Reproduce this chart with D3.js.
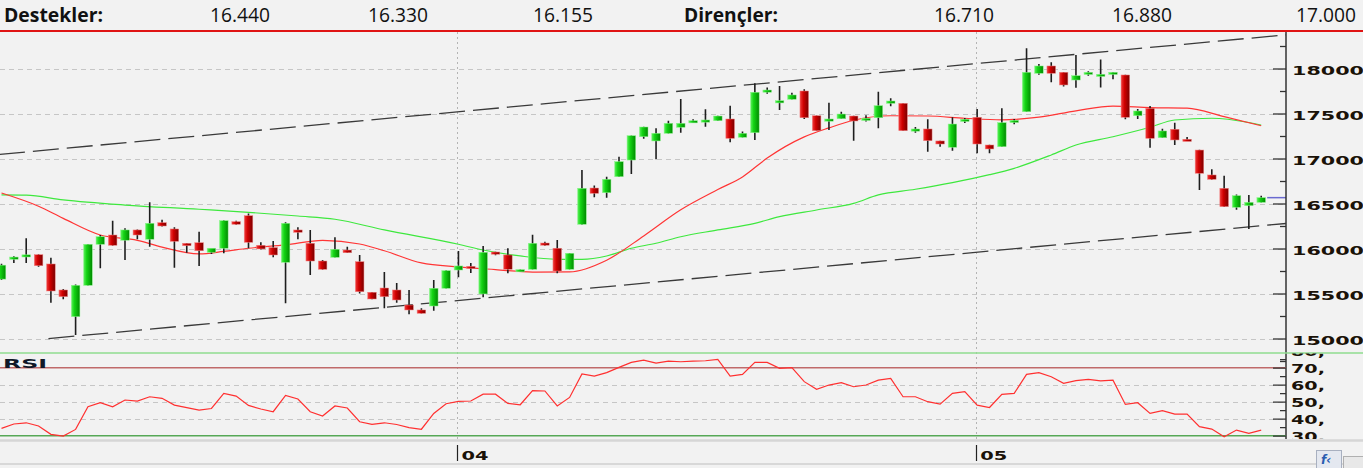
<!DOCTYPE html>
<html>
<head>
<meta charset="utf-8">
<script src="https://cdn.jsdelivr.net/npm/d3@7/dist/d3.min.js"></script>
<style>
  body { margin: 0; background: #f2f2f2; }
  svg { display: block; }
</style>
</head>
<body>
<svg width="1363" height="468"></svg>
<script>

// candles (index 0 = leftmost)
const opens = [15660,15880,15920,15931,15828,15539,15243,15591,16047,16150,16092,16206,16103,16287,16217,16058,16064,15958,16003,16298,
  16364,16036,16010,15847,16206,16058,15861,15902,15983,15853,15514,15561,15539,15372,15317,15361,15558,15761,15802,15495,
  15961,15928,15747,15769,16061,16003,15769,16269,16672,16620,16798,16983,17242,17195,17280,17347,17402,17413,17420,17439,
  17236,17287,17747,17628,17658,17750,17475,17424,17442,17472,17428,17453,17613,17613,17306,17328,17195,17125,17413,17458,
  17150,17131,17409,17520,17947,18028,17958,17872,17936,17917,17936,17928,17476,17558,17231,17325,17214,17094,16817,16669,
  16458,16476,16513];
const highs = [15830,15915,16115,15935,15898,15550,15600,16050,16150,16309,16225,16210,16514,16320,16236,16060,16187,15960,16315,16309,
  16390,16069,16083,16291,16236,16206,15872,16125,16020,15928,15516,15739,15617,15539,15336,15650,15758,15972,15839,16028,
  15965,16003,15768,16153,16075,16095,15950,16872,16700,16798,17020,17255,17352,17336,17420,17661,17435,17547,17474,17587,
  17300,17836,17790,17806,17730,17770,17477,17620,17520,17474,17480,17742,17670,17615,17350,17436,17197,17458,17450,17550,
  17152,17558,17440,18224,18050,18069,17960,18150,17970,18100,17960,17930,17550,17583,17330,17398,17240,17096,16880,16809,
  16600,16595,16585];
const lows = [15650,15840,15840,15798,15398,15435,15040,15590,15780,16030,15872,16103,16020,16245,15787,15953,15806,15940,15947,16265,
  16003,15990,15903,15391,16103,15706,15765,15900,15950,15500,15435,15336,15398,15269,15278,15309,15555,15680,15728,15458,
  15925,15725,15745,15766,16030,15725,15767,16265,16570,16565,16795,16828,17220,16991,17278,17287,17400,17353,17418,17180,
  17234,17206,17720,17539,17656,17440,17307,17317,17440,17198,17410,17336,17580,17307,17285,17076,17130,17087,17395,17058,
  17058,17129,17380,17518,17930,17847,17800,17786,17920,17790,17880,17436,17440,17120,17229,17150,17200,16650,16765,16460,
  16430,16217,16510];
const closes = [15815,15905,15930,15809,15528,15465,15591,16047,16131,16036,16206,16150,16280,16250,16080,16031,15975,16003,16309,16269,
  16069,15995,15928,16280,16180,15861,15769,15991,15953,15520,15439,15465,15428,15317,15280,15558,15754,15806,15783,15958,
  15943,15769,15765,16058,16039,15750,15947,16669,16613,16769,16965,17253,17350,17280,17391,17391,17420,17428,17472,17224,
  17280,17736,17761,17642,17706,17453,17309,17439,17494,17417,17447,17587,17639,17309,17328,17198,17161,17383,17436,17161,
  17106,17398,17424,17958,18028,17947,17817,17920,17958,17936,17958,17458,17528,17224,17306,17206,17203,16836,16769,16465,
  16587,16513,16565];

// RSI per candle
const rsi = [34.3,36.9,37.6,35.7,30.8,29.8,33.7,47,49.4,47,51,50.4,52.9,52,48,46.5,45.1,46,54.9,53.3,
  47.8,45.7,44.1,53.7,51.6,44.1,41.6,47.5,46.3,38.2,36.7,37.6,36.6,34.8,33.8,43.1,48.8,50.2,50.4,54.4,
  54.4,49,48.2,56.5,56.3,47.5,52.5,66.3,65.1,67.1,70.2,73.1,74.5,72.7,73.9,73.5,73.9,74.1,74.9,65.1,
  66.1,73.1,73.1,69.6,70,61.8,57.3,59.8,61.2,58.8,59.8,62.7,63.7,52.9,52.9,50,48.6,54.9,55.9,48,
  46.6,54.3,54.9,66.1,67.1,64.7,60.8,62.4,63.1,62.2,62.7,48.4,49.4,43.1,44.7,42.7,42.7,35.3,33.9,29.4,
  33.3,31.4,33.3];

// moving averages [candle index, value]
const maFast = [[0,16617],[3,16470],[5,16335],[8,16150],[11,16090],[13,16015],[16,15940],[18,15968],[20,16003],[23,16040],
  [26,16090],[29,16050],[31,15975],[34,15840],[37,15795],[40,15765],[43,15738],[46,15740],[49,15870],[52,16140],
  [55,16430],[58,16655],[60,16795],[62,17005],[65,17240],[67,17340],[69,17425],[72,17475],[75,17472],[78,17447],
  [81,17430],[84,17460],[87,17530],[90,17583],[93,17566],[96,17560],[99,17465],[102,17364]];
const maSlow = [[0,16595],[2,16592],[5,16540],[10,16483],[16,16436],[20,16402],[24,16361],[27,16325],[31,16206],[37,16047],
  [39,15983],[42,15917],[45,15880],[47,15880],[49,15917],[51,16003],[53,16058],[55,16131],[58,16206],[61,16280],
  [63,16354],[66,16428],[69,16502],[71,16595],[74,16658],[77,16732],[80,16820],[82,16891],[85,17039],[87,17150],
  [90,17242],[93,17347],[95,17428],[98,17447],[101,17400],[102,17372]];

// trend channel [candle index, price]
const channelUpper = [[-0.2, 17045], [104, 18374]];
const channelLower = [[3.8, 14999], [104, 16278]];

const priceTicks = [15000, 15500, 16000, 16500, 17000, 17500, 18000];
const priceMinor = [14750, 15250, 15750, 16250, 16750, 17250, 17750, 18250];
const rsiTicks = [30, 40, 50, 60, 70, 80];
const rsiMinor = [35, 45, 55, 65, 75];
const monthStarts = [37, 79];
const monthLabels = ['04', '05'];

const supports = ['16.440', '16.330', '16.155'];
const resistances = ['16.710', '16.880', '17.000'];


let svg = d3.select('svg');
let defs = svg.append('defs');

let plotRight = 1286;
let priceTop = 32, priceBottom = 352.5;
let rsiTop = 353.5, rsiBottom = 439;

let x = d3.scaleLinear().domain([0, 102]).range([1.5, 1261.2]);
let y = d3.scaleLinear().domain([15000, 18000]).range([338.5, 68.5]);
let yR = d3.scaleLinear().domain([30, 70]).range([435.7, 367.7]);

//gradients for candle bodies
let gUp = defs.append('linearGradient').attr('id', 'gUp');
gUp.append('stop').attr('offset', '0%').attr('stop-color', '#5cf05c');
gUp.append('stop').attr('offset', '35%').attr('stop-color', '#14d414');
gUp.append('stop').attr('offset', '100%').attr('stop-color', '#008a00');

let gDown = defs.append('linearGradient').attr('id', 'gDown');
gDown.append('stop').attr('offset', '0%').attr('stop-color', '#f03a3a');
gDown.append('stop').attr('offset', '40%').attr('stop-color', '#d00000');
gDown.append('stop').attr('offset', '100%').attr('stop-color', '#7a0000');

defs.append('clipPath').attr('id', 'priceClip')
  .append('rect').attr('x', 0).attr('y', priceTop).attr('width', plotRight).attr('height', priceBottom - priceTop);
defs.append('clipPath').attr('id', 'rsiClip')
  .append('rect').attr('x', 0).attr('y', rsiTop).attr('width', plotRight).attr('height', rsiBottom - rsiTop);
defs.append('clipPath').attr('id', 'rsiAxisClip')
  .append('rect').attr('x', plotRight - 20).attr('y', rsiTop).attr('width', 100).attr('height', rsiBottom - rsiTop);

svg.append('rect').attr('width', 1363).attr('height', 468).attr('fill', '#f2f2f2');

// -- header --
let header = svg.append('g')
  .style('font-family', '"Open Sans", "Noto Sans", sans-serif')
  .style('font-size', '19.5px')
  .attr('fill', '#111');

header.append('text').attr('x', 4).attr('y', 21.5).attr('font-weight', 'bold')
  .attr('textLength', 99).attr('lengthAdjust', 'spacingAndGlyphs').text('Destekler:');
header.append('text').attr('x', 684).attr('y', 21.5).attr('font-weight', 'bold')
  .attr('textLength', 94).attr('lengthAdjust', 'spacingAndGlyphs').text('Dirençler:');

let supportX = [210, 368, 533];
let resistX = [934, 1112, 1296];

header.selectAll('.sup').data(supports).enter().append('text')
  .attr('x', (d, i) => supportX[i]).attr('y', 21.5)
  .attr('textLength', 60).attr('lengthAdjust', 'spacingAndGlyphs')
  .text(d => d);
header.selectAll('.res').data(resistances).enter().append('text')
  .attr('x', (d, i) => resistX[i]).attr('y', 21.5)
  .attr('textLength', 60).attr('lengthAdjust', 'spacingAndGlyphs')
  .text(d => d);

svg.append('line').attr('x1', 0).attr('x2', 1363).attr('y1', 31).attr('y2', 31)
  .attr('stroke', '#e01414').attr('stroke-width', 2);

// -- grids --
let grid = svg.append('g');

grid.selectAll('.hg').data(priceTicks).enter().append('line')
  .attr('x1', 0).attr('x2', plotRight)
  .attr('y1', d => Math.round(y(d)) + 0.5).attr('y2', d => Math.round(y(d)) + 0.5)
  .attr('stroke', '#c6c6c6').attr('stroke-dasharray', '5,4');

grid.selectAll('.rg').data([40, 50, 60]).enter().append('line')
  .attr('x1', 0).attr('x2', plotRight)
  .attr('y1', d => Math.round(yR(d)) + 0.5).attr('y2', d => Math.round(yR(d)) + 0.5)
  .attr('stroke', '#c6c6c6').attr('stroke-dasharray', '5,4');

grid.selectAll('.vg').data(monthStarts).enter().append('line')
  .attr('x1', d => Math.round(x(d)) - 0.5).attr('x2', d => Math.round(x(d)) - 0.5)
  .attr('y1', priceTop).attr('y2', rsiBottom)
  .attr('stroke', '#b4b4b4').attr('stroke-dasharray', '2,3');

// -- price panel --
let pricePane = svg.append('g').attr('clip-path', 'url(#priceClip)');

let trend = d3.line().x(d => x(d[0])).y(d => y(d[1]));

[channelUpper, channelLower].forEach(ch => {
  pricePane.append('path')
    .datum(ch)
    .attr('d', trend)
    .attr('fill', 'none')
    .attr('stroke', '#3a3a3a')
    .attr('stroke-width', 1.3)
    .attr('stroke-dasharray', '26,8');
});

let maLine = d3.line().x(d => x(d[0])).y(d => y(d[1])).curve(d3.curveMonotoneX);

pricePane.append('path').datum(maSlow).attr('d', maLine)
  .attr('fill', 'none').attr('stroke', '#3ee83e').attr('stroke-width', 1.2);
pricePane.append('path').datum(maFast).attr('d', maLine)
  .attr('fill', 'none').attr('stroke', '#ff3535').attr('stroke-width', 1.2);

let candles = opens.map((o, i) => ({ i: i, o: o, h: highs[i], l: lows[i], c: closes[i] }));

pricePane.selectAll('.wick').data(candles).enter().append('line')
  .attr('x1', d => x(d.i)).attr('x2', d => x(d.i))
  .attr('y1', d => y(d.h)).attr('y2', d => y(d.l))
  .attr('stroke', '#1e1e1e').attr('stroke-width', 1.6);

pricePane.selectAll('.body').data(candles).enter().append('rect')
  .attr('x', d => x(d.i) - 4.3)
  .attr('width', 8.6)
  .attr('y', d => y(Math.max(d.o, d.c)))
  .attr('height', d => Math.max(2.2, Math.abs(y(d.o) - y(d.c))))
  .attr('fill', d => d.c >= d.o ? 'url(#gUp)' : 'url(#gDown)')
  .attr('stroke', d => d.c >= d.o ? '#8af58a' : '#f08080')
  .attr('stroke-width', 0.5);

// last price marker
let last = closes[closes.length - 1];
svg.append('line')
  .attr('x1', x(closes.length - 1) + 6).attr('x2', plotRight)
  .attr('y1', y(last)).attr('y2', y(last))
  .attr('stroke', '#6a6ad0').attr('stroke-width', 1.5);

// -- price axis --
let axisFont = '"DejaVu Sans", Verdana, sans-serif';

let pAxis = svg.append('g')
  .attr('transform', `translate(${plotRight},0)`)
  .call(d3.axisRight(y).tickValues(priceTicks).tickSizeInner(-13).tickSizeOuter(0).tickPadding(6)
    .tickFormat(d3.format('d')));
pAxis.select('.domain').remove();
pAxis.selectAll('line').attr('stroke', '#333').attr('stroke-width', 1.3);
pAxis.selectAll('text')
  .attr('dy', '0.75em').attr('y', -3)
  .style('font-family', axisFont).style('font-size', '12px').style('font-weight', 'bold')
  .attr('fill', '#1a1208')
  .attr('textLength', d => String(d).length * 14.4).attr('lengthAdjust', 'spacingAndGlyphs');

let pMinor = svg.append('g')
  .attr('transform', `translate(${plotRight},0)`)
  .call(d3.axisRight(y).tickValues(priceMinor).tickSizeInner(-6).tickSizeOuter(0).tickFormat(''));
pMinor.select('.domain').remove();
pMinor.selectAll('line').attr('stroke', '#333').attr('stroke-width', 1.3);

svg.append('line').attr('x1', plotRight).attr('x2', plotRight).attr('y1', priceTop).attr('y2', rsiBottom)
  .attr('stroke', '#333').attr('stroke-width', 1.5);

// -- RSI panel --
svg.append('line').attr('x1', 0).attr('x2', 1363).attr('y1', 353).attr('y2', 353)
  .attr('stroke', '#8fdc8f').attr('stroke-width', 1.5);

svg.append('line').attr('x1', 0).attr('x2', plotRight).attr('y1', yR(70)).attr('y2', yR(70))
  .attr('stroke', '#c06a6a').attr('stroke-width', 1.4);
svg.append('line').attr('x1', 0).attr('x2', plotRight).attr('y1', yR(30)).attr('y2', yR(30))
  .attr('stroke', '#56a856').attr('stroke-width', 1.4);

let rsiLine = d3.line().x((d, i) => x(i)).y(d => yR(d));
svg.append('g').attr('clip-path', 'url(#rsiClip)')
  .append('path').datum(rsi).attr('d', rsiLine)
  .attr('fill', 'none').attr('stroke', '#ff3030').attr('stroke-width', 1.2);

svg.append('text').attr('x', 3).attr('y', 368)
  .style('font-family', axisFont).style('font-size', '12.5px').style('font-weight', 'bold')
  .attr('fill', '#101828')
  .attr('textLength', 44).attr('lengthAdjust', 'spacingAndGlyphs')
  .text('RSI');

let rAxisG = svg.append('g').attr('clip-path', 'url(#rsiAxisClip)');
let rAxis = rAxisG.append('g')
  .attr('transform', `translate(${plotRight},0)`)
  .call(d3.axisRight(yR).tickValues(rsiTicks).tickSizeInner(-13).tickSizeOuter(0).tickPadding(5)
    .tickFormat(d => d + ','));
rAxis.select('.domain').remove();
rAxis.selectAll('line').attr('stroke', '#333').attr('stroke-width', 1.3);
rAxis.selectAll('text')
  .attr('dy', '0.75em').attr('y', -4)
  .style('font-family', axisFont).style('font-size', '12px').style('font-weight', 'bold')
  .attr('fill', '#1a1208')
  .attr('textLength', 34).attr('lengthAdjust', 'spacingAndGlyphs');

let rMinor = rAxisG.append('g')
  .attr('transform', `translate(${plotRight},0)`)
  .call(d3.axisRight(yR).tickValues(rsiMinor).tickSizeInner(-6).tickSizeOuter(0).tickFormat(''));
rMinor.select('.domain').remove();
rMinor.selectAll('line').attr('stroke', '#333').attr('stroke-width', 1.3);

// -- time axis --
svg.append('line').attr('x1', 0).attr('x2', 1363).attr('y1', 440.5).attr('y2', 440.5)
  .attr('stroke', '#d6d6d6').attr('stroke-width', 2.5);
svg.append('line').attr('x1', 0).attr('x2', 1363).attr('y1', 464).attr('y2', 464)
  .attr('stroke', '#cfcfcf').attr('stroke-width', 1.5);

let months = svg.append('g');
months.selectAll('.mt').data(monthStarts).enter().append('line')
  .attr('x1', d => Math.round(x(d)) - 0.5).attr('x2', d => Math.round(x(d)) - 0.5)
  .attr('y1', 445).attr('y2', 461)
  .attr('stroke', '#222').attr('stroke-width', 1.2);
months.selectAll('.ml').data(monthStarts).enter().append('text')
  .attr('x', d => x(d) + 3).attr('y', 460)
  .style('font-family', axisFont).style('font-size', '12px').style('font-weight', 'bold')
  .attr('fill', '#1a1208')
  .attr('textLength', 27).attr('lengthAdjust', 'spacingAndGlyphs')
  .text((d, i) => monthLabels[i]);

// scroll buttons bottom right
svg.append('rect').attr('x', 1316.5).attr('y', 450.5).attr('width', 25).attr('height', 18)
  .attr('fill', '#e4e8f0').attr('stroke', '#a8b0c0');
svg.append('text').attr('x', 1321).attr('y', 464)
  .style('font-family', axisFont).style('font-size', '12px').style('font-weight', 'bold').style('font-style', 'italic')
  .attr('fill', '#2a5cb0').text('f‹');
svg.append('rect').attr('x', 1343.5).attr('y', 456.5).attr('width', 20).attr('height', 12)
  .attr('fill', '#e8e8e8').attr('stroke', '#b0b0b0');
</script>
</body>
</html>
